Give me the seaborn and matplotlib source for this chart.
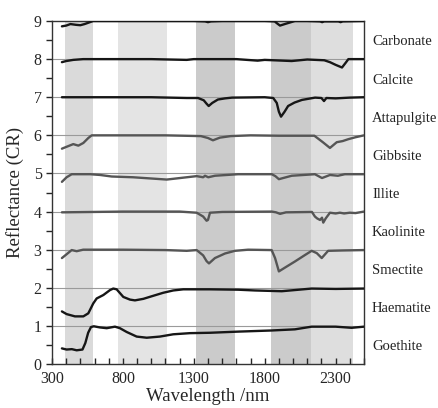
import pandas as pd
import matplotlib
matplotlib.use("Agg")
import matplotlib.pyplot as plt
from matplotlib.ticker import MultipleLocator
import seaborn as sns

# spectra (continuum removed, offset by one unit each)
minerals = ['Carbonate', 'Calcite', 'Attapulgite', 'Gibbsite', 'Illite',
            'Kaolinite', 'Smectite', 'Haematite', 'Goethite']
baselines = [9, 8, 7, 6, 5, 4, 3, 2, 1]
x_ticks = [300, 800, 1300, 1800, 2300]

carbonate_wl = [370, 400, 430, 470, 500, 530, 560, 590, 700, 1000, 1300, 1380, 1400, 1420, 1500,
                1800, 1870, 1890, 1908, 1950, 2013, 2100, 2190, 2205, 2220, 2320, 2335, 2350, 2500]
carbonate_r = [8.86, 8.88, 8.92, 8.90, 8.89, 8.92, 8.96, 9.0, 9.0, 9.0, 9.0, 8.99, 8.97, 8.99, 9.0,
               9.0, 8.99, 8.93, 8.88, 8.93, 9.0, 9.0, 8.99, 8.97, 8.99, 8.99, 8.97, 8.99, 9.0]

calcite_wl = [370, 400, 450, 520, 700, 1000, 1250, 1300, 1600, 1750, 1800, 1990, 2100, 2220,
              2260, 2300, 2345, 2370, 2390, 2500]
calcite_r = [7.92, 7.95, 7.98, 8.0, 8.0, 8.0, 7.98, 8.0, 8.0, 7.96, 7.98, 7.95, 7.99, 7.97,
             7.92, 7.85, 7.78, 7.9, 8.0, 8.0]

attapulgite_wl = [370, 600, 1000, 1250, 1330, 1370, 1390, 1405, 1430, 1470, 1520, 1570, 1800,
                  1860, 1885, 1900, 1915, 1940, 1965, 2010, 2063, 2155, 2200, 2218, 2235, 2300,
                  2400, 2500]
attapulgite_r = [7.0, 7.0, 7.0, 6.98, 6.98, 6.92, 6.83, 6.77, 6.85, 6.94, 6.97, 6.99, 7.0,
                 6.98, 6.85, 6.62, 6.49, 6.62, 6.77, 6.86, 6.93, 6.99, 6.98, 6.9, 6.98, 6.97,
                 6.99, 7.0]

gibbsite_wl = [370, 403, 450, 486, 521, 556, 580, 800, 1100, 1350, 1400, 1435, 1484, 1560,
               1700, 1900, 2150, 2210, 2260, 2308, 2350, 2390, 2440, 2500]
gibbsite_r = [5.65, 5.70, 5.77, 5.73, 5.80, 5.93, 6.0, 6.0, 6.0, 5.98, 5.93, 5.87, 5.94, 5.98,
              6.0, 5.99, 5.99, 5.82, 5.67, 5.82, 5.85, 5.9, 5.95, 6.0]

illite_wl = [370, 403, 439, 570, 640, 721, 872, 991, 1109, 1203, 1320, 1366, 1379, 1402, 1449,
             1612, 1850, 1875, 1900, 1950, 1991, 2154, 2204, 2260, 2316, 2365, 2500]
illite_r = [4.78, 4.90, 4.98, 4.98, 4.96, 4.92, 4.90, 4.87, 4.84, 4.88, 4.93, 4.90, 4.94, 4.90,
            4.94, 4.98, 4.98, 4.93, 4.85, 4.9, 4.94, 4.98, 4.88, 4.96, 4.94, 4.98, 4.98]

kaolinite_wl = [370, 800, 1200, 1320, 1366, 1390, 1400, 1414, 1500, 1850, 1880, 1908, 1950,
                2133, 2154, 2170, 2190, 2204, 2213, 2230, 2260, 2300, 2330, 2360, 2400, 2440, 2500]
kaolinite_r = [3.98, 4.0, 4.0, 3.97, 3.87, 3.76, 3.78, 3.97, 3.99, 4.0, 3.98, 3.94, 3.98,
               3.99, 3.87, 3.82, 3.78, 3.84, 3.71, 3.82, 3.97, 3.95, 3.97, 3.95, 3.97, 3.96, 4.0]

smectite_wl = [370, 403, 439, 474, 520, 800, 1100, 1250, 1320, 1366, 1390, 1407, 1449, 1520,
               1590, 1683, 1849, 1873, 1900, 1943, 2013, 2084, 2131, 2167, 2202, 2247, 2350, 2500]
smectite_r = [2.78, 2.88, 2.99, 2.96, 3.0, 3.0, 2.99, 2.97, 2.99, 2.85, 2.70, 2.64, 2.78, 2.90,
              2.97, 3.0, 2.99, 2.78, 2.43, 2.53, 2.69, 2.86, 2.97, 2.91, 2.78, 2.97, 2.98, 2.99]

haematite_wl = [370, 403, 462, 521, 556, 591, 615, 662, 709, 732, 756, 803, 850, 885, 944, 1014,
                1085, 1155, 1226, 1320, 1414, 1612, 1731, 1920, 2131, 2300, 2500]
haematite_r = [1.38, 1.31, 1.25, 1.25, 1.33, 1.59, 1.72, 1.81, 1.94, 1.98, 1.96, 1.76, 1.69,
               1.67, 1.71, 1.79, 1.87, 1.93, 1.96, 1.96, 1.96, 1.95, 1.93, 1.91, 1.98, 1.97, 1.98]

goethite_wl = [370, 403, 440, 474, 515, 535, 555, 575, 595, 638, 686, 744, 779, 827, 897, 968,
               1061, 1155, 1273, 1414, 1612, 1849, 2013, 2131, 2300, 2413, 2500]
goethite_r = [0.41, 0.38, 0.39, 0.36, 0.38, 0.55, 0.82, 0.97, 0.99, 0.96, 0.94, 0.98, 0.94,
              0.84, 0.72, 0.69, 0.72, 0.78, 0.81, 0.82, 0.85, 0.88, 0.91, 0.98, 0.98, 0.95, 0.98]

spectra = {
    'Carbonate': (carbonate_wl, carbonate_r),
    'Calcite': (calcite_wl, calcite_r),
    'Attapulgite': (attapulgite_wl, attapulgite_r),
    'Gibbsite': (gibbsite_wl, gibbsite_r),
    'Illite': (illite_wl, illite_r),
    'Kaolinite': (kaolinite_wl, kaolinite_r),
    'Smectite': (smectite_wl, smectite_r),
    'Haematite': (haematite_wl, haematite_r),
    'Goethite': (goethite_wl, goethite_r),
}

# absorption band windows (nm)
band_start = [390, 765, 1315, 1845, 2125]
band_end = [590, 1110, 1590, 2125, 2420]

sns.set_style("ticks")
plt.rcParams['font.family'] = ['Liberation Serif', 'DejaVu Serif']

fig = plt.figure(figsize=(4.38, 4.08), dpi=100)
ax = fig.add_axes([0.1187, 0.1078, 0.7123, 0.8407])

band_colors = ['#dadada', '#e4e4e4', '#cbcbcb', '#cbcbcb', '#dedede']
for s, e, c in zip(band_start, band_end, band_colors):
    ax.axvspan(s, e, color=c, lw=0, zorder=0)

for b in baselines[1:]:
    ax.axhline(b, color='#9a9a9a', lw=0.8, zorder=1)

gray_ones = {'Gibbsite', 'Illite', 'Kaolinite', 'Smectite'}
for name, base in zip(minerals, baselines):
    wl, r = spectra[name]
    col = '#555555' if name in gray_ones else '#161616'
    sns.lineplot(x=wl, y=r, ax=ax, color=col, lw=1.7, zorder=3)
    ax.text(1.026, base - 0.55, name, transform=ax.get_yaxis_transform(),
            ha='left', va='center', fontsize=10.5, color='#222222')

ax.set_xlim(300, 2500)
ax.set_ylim(0, 9)
ax.set_xticks(x_ticks)
ax.xaxis.set_minor_locator(MultipleLocator(100))
ax.yaxis.set_major_locator(MultipleLocator(1))
ax.yaxis.set_minor_locator(MultipleLocator(0.5))
ax.tick_params(axis='x', which='both', direction='in', length=4, width=1,
               labelsize=11.5, pad=5)
ax.tick_params(axis='y', which='both', direction='out', length=4, width=1, labelsize=11.5)
for sp in ax.spines.values():
    sp.set_color('#333333')
    sp.set_linewidth(1)

ax.set_xlabel('Wavelength /nm', fontsize=13.5, labelpad=0.5)
ax.set_ylabel('Reflectance (CR)', fontsize=13.5, labelpad=7)

fig.savefig('out.png', dpi=100)
